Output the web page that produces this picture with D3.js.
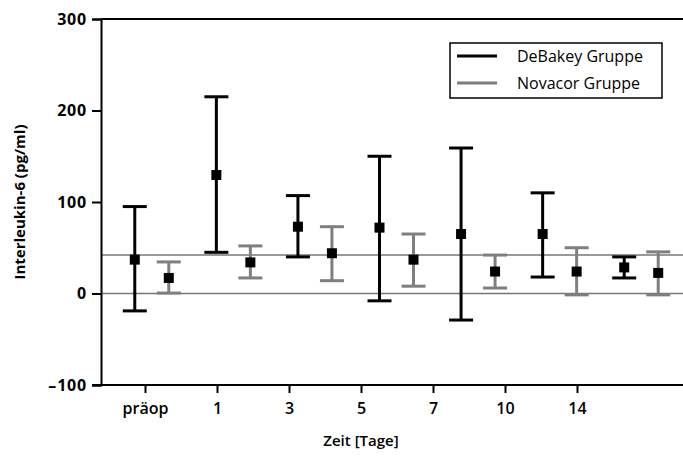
<!DOCTYPE html>
<html>
<head>
<meta charset="utf-8">
<script src="https://cdn.jsdelivr.net/npm/d3@7/dist/d3.min.js"></script>
<style>
  body { margin: 0; background: #fff; }
  text { font-family: "Open Sans", "Noto Sans", sans-serif; }
</style>
</head>
<body>
<div id="chart"></div>
<script>
const svgWidth = 683
const svgHeight = 459

// data
const days = ["präop", "1", "3", "5", "7", "10", "14"]
const debakeyMean = [37, 129.5, 73, 72, 65, 65, 28.5]
const debakeyLow = [-19, 45, 40, -8, -29, 18, 17]
const debakeyHigh = [95, 215, 107, 150, 159, 110, 40]
const novacorMean = [17, 34, 44, 37, 24, 24, 22.5]
const novacorLow = [0.5, 17, 14, 8, 6, -1.5, -1.5]
const novacorHigh = [34.5, 52, 73, 65, 42, 50, 45.5]
const yTicks = [-100, 0, 100, 200, 300]
const refLine = 42

let margin = { top: 19, right: 0, bottom: 74, left: 101 }

let svg = d3.select("#chart")
  .append("svg")
  .attr("width", svgWidth)
  .attr("height", svgHeight)

let yScale = d3.scaleLinear()
  .domain([-100, 300])
  .range([svgHeight - margin.bottom, margin.top])

// tick positions of the category axis
let xTick = d3.scalePoint()
  .domain(days)
  .range([145, 577])

// the error bar pairs sit on a slightly wider grid than the ticks
let xBand = d3.scaleBand()
  .domain(days)
  .range([111, 682])

let series = [
  { name: "DeBakey Gruppe", color: "#000", offset: -17, mean: debakeyMean, low: debakeyLow, high: debakeyHigh },
  { name: "Novacor Gruppe", color: "#7f7f7f", offset: 17, mean: novacorMean, low: novacorLow, high: novacorHigh }
]

// reference lines
svg.append("line")
  .attr("x1", margin.left).attr("x2", svgWidth)
  .attr("y1", yScale(0)).attr("y2", yScale(0))
  .attr("stroke", "#777").attr("stroke-width", 1.5)
svg.append("line")
  .attr("x1", margin.left).attr("x2", svgWidth)
  .attr("y1", yScale(refLine)).attr("y2", yScale(refLine))
  .attr("stroke", "#777").attr("stroke-width", 1.5)

// top frame line
svg.append("line")
  .attr("x1", margin.left).attr("x2", svgWidth)
  .attr("y1", yScale(300)).attr("y2", yScale(300))
  .attr("stroke", "#000").attr("stroke-width", 2)

// y axis
let yAxis = svg.append("g")
  .attr("transform", `translate(${margin.left}, 0)`)
  .call(d3.axisLeft(yScale).tickValues(yTicks).tickSize(9).tickPadding(5).tickFormat(d3.format("d")))
yAxis.select(".domain").attr("stroke-width", 2)
yAxis.selectAll(".tick line").attr("stroke-width", 2)
yAxis.selectAll("text")
  .attr("font-size", "16px").attr("font-weight", "bold").attr("fill", "#000")
  .attr("letter-spacing", "0.8px")
  .text(d => d < 0 ? "\u2013" + Math.abs(d) : d)

// x axis
svg.append("line")
  .attr("x1", margin.left - 9).attr("x2", svgWidth)
  .attr("y1", yScale(-100)).attr("y2", yScale(-100))
  .attr("stroke", "#000").attr("stroke-width", 2)
let xAxis = svg.append("g")
  .attr("transform", `translate(0, ${yScale(-100)})`)
  .call(d3.axisBottom(xTick).tickSize(8).tickPadding(10))
xAxis.select(".domain").remove()
xAxis.selectAll(".tick line").attr("stroke-width", 2)
xAxis.selectAll("text")
  .attr("font-size", "16px").attr("font-weight", "600").attr("fill", "#000")

// axis titles
svg.append("text")
  .attr("x", 361).attr("y", 446)
  .attr("text-anchor", "middle")
  .attr("font-size", "15px").attr("font-weight", "600")
  .text("Zeit [Tage]")

svg.append("text")
  .attr("transform", `translate(25, ${yScale(100)}) rotate(-90)`)
  .attr("text-anchor", "middle")
  .attr("font-size", "15px").attr("font-weight", "bold")
  .text("Interleukin-6 (pg/ml)")

// error bars
series.forEach(s => {
  let g = svg.append("g")
  let cx = (d) => xBand(d) + xBand.bandwidth() / 2 + s.offset

  g.selectAll("line.stem")
    .data(days).enter().append("line")
    .attr("x1", cx).attr("x2", cx)
    .attr("y1", (d, i) => yScale(s.low[i]))
    .attr("y2", (d, i) => yScale(s.high[i]))
    .attr("stroke", s.color).attr("stroke-width", 3)

  ;["low", "high"].forEach(k => {
    g.selectAll("line.cap-" + k)
      .data(days).enter().append("line")
      .attr("x1", d => cx(d) - 12).attr("x2", d => cx(d) + 12)
      .attr("y1", (d, i) => yScale(s[k][i]))
      .attr("y2", (d, i) => yScale(s[k][i]))
      .attr("stroke", s.color).attr("stroke-width", 3)
  })

  g.selectAll("rect")
    .data(days).enter().append("rect")
    .attr("x", d => cx(d) - 5)
    .attr("y", (d, i) => yScale(s.mean[i]) - 5)
    .attr("width", 10).attr("height", 10)
    .attr("fill", "#000")
})

// legend
let legend = svg.append("g").attr("transform", "translate(450, 43)")
legend.append("rect")
  .attr("width", 212).attr("height", 55)
  .attr("fill", "#fff").attr("stroke", "#000").attr("stroke-width", 1.5)
series.forEach((s, i) => {
  legend.append("line")
    .attr("x1", 7).attr("x2", 47)
    .attr("y1", 13 + i * 27).attr("y2", 13 + i * 27)
    .attr("stroke", s.color).attr("stroke-width", 3)
  legend.append("text")
    .attr("x", 67).attr("y", 19 + i * 27)
    .attr("font-size", "16px")
    .text(s.name)
})
</script>
</body>
</html>
